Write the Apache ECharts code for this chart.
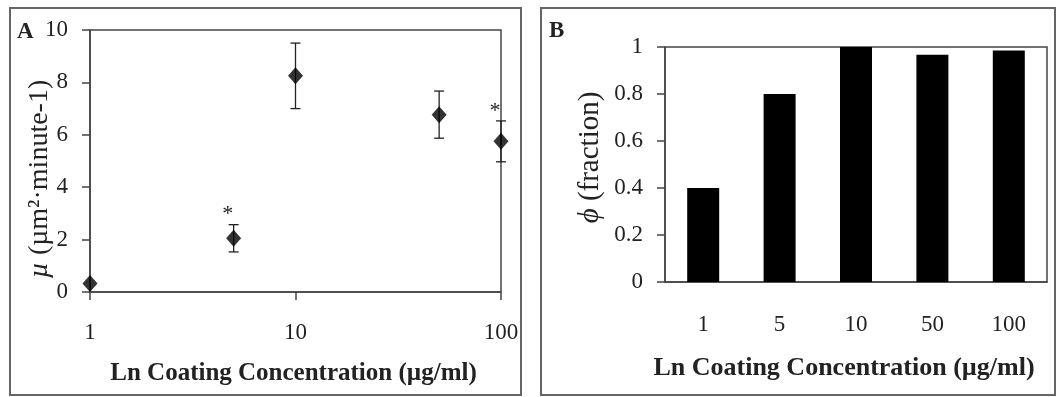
<!DOCTYPE html>
<html>
<head>
<meta charset="utf-8">
<script src="https://cdn.jsdelivr.net/npm/echarts@6/dist/echarts.min.js"></script>
<style>
  html, body { margin: 0; padding: 0; background: #fff; }
  #chart { width: 1057px; height: 397px; }
</style>
</head>
<body>
<div id="chart"></div>
<script>
// panel A: migration speed vs coating concentration (log x)
const concA = [1, 5, 10, 50, 100];
const muA = [0.32, 2.05, 8.25, 6.77, 5.75];
const errA = [0, 0.52, 1.25, 0.9, 0.78];
const sigA = [false, true, false, false, true];
const ticksA = [0, 2, 4, 6, 8, 10];

// panel B: fraction phi per concentration
const catsB = ['1', '5', '10', '50', '100'];
const phiB = [0.4, 0.8, 1.0, 0.967, 0.985];

const FONT = '"Liberation Serif", "DejaVu Serif", serif';
const INK = '#222';
const AXIS = '#444';

let chart = echarts.init(document.getElementById('chart'), null, { renderer: 'canvas' });

const xTitle = 'Ln Coating Concentration (\u00b5g/ml)';

let option = {
  animation: false,
  backgroundColor: '#fff',
  textStyle: { fontFamily: FONT, color: INK },
  graphic: [
    { type: 'rect', shape: { x: 10, y: 8, width: 511, height: 387 },
      style: { fill: 'none', stroke: '#666', lineWidth: 2 } },
    { type: 'rect', shape: { x: 541, y: 8, width: 514, height: 387 },
      style: { fill: 'none', stroke: '#666', lineWidth: 2 } },
    { type: 'text', left: 17, top: 21,
      style: { text: 'A', font: 'bold 23px ' + FONT, fill: INK } },
    { type: 'text', left: 549, top: 20,
      style: { text: 'B', font: 'bold 23px ' + FONT, fill: INK } }
  ],
  grid: [
    { left: 90, top: 30, width: 411, height: 262, show: true,
      borderColor: AXIS, borderWidth: 1.5 },
    { left: 665, top: 47, width: 382, height: 235, show: true,
      borderColor: AXIS, borderWidth: 1.5 }
  ],
  xAxis: [
    {
      gridIndex: 0, type: 'log', logBase: 10, min: 1, max: 100,
      axisLine: { lineStyle: { color: AXIS, width: 1.5 } },
      axisTick: { inside: false, length: 8, lineStyle: { color: AXIS, width: 1.5 } },
      minorTick: { show: false },
      splitLine: { show: false },
      axisLabel: { margin: 29, fontSize: 23, color: INK, fontFamily: FONT },
      name: xTitle, nameLocation: 'middle', nameGap: 69, nameMoveOverlap: false,
      nameTextStyle: { fontSize: 25, fontWeight: 'bold', color: INK, fontFamily: FONT,
        padding: [0, 4, 0, 0] }
    },
    {
      gridIndex: 1, type: 'category', data: catsB,
      axisLine: { lineStyle: { color: AXIS, width: 1.5 } },
      axisTick: { inside: false, length: 8, lineStyle: { color: AXIS, width: 1.5 } },
      axisLabel: { margin: 31, fontSize: 23, color: INK, fontFamily: FONT },
      name: xTitle, nameLocation: 'middle', nameGap: 73, nameMoveOverlap: false,
      nameTextStyle: { fontSize: 26, fontWeight: 'bold', color: INK, fontFamily: FONT,
        padding: [0, 24, 0, 0] }
    }
  ],
  yAxis: [
    {
      gridIndex: 0, type: 'value', min: ticksA[0], max: ticksA[ticksA.length - 1], interval: 2,
      axisLine: { show: true, lineStyle: { color: AXIS, width: 1.5 } },
      axisTick: { show: true, inside: false, length: 8, lineStyle: { color: AXIS, width: 1.5 } },
      splitLine: { show: false },
      axisLabel: { margin: 22, fontSize: 23, color: INK, fontFamily: FONT },
      name: '{i|\u00b5} (\u00b5m\u00b2\u00b7minute-1)', nameLocation: 'middle', nameGap: 36,
      nameMoveOverlap: false,
      nameTextStyle: {
        fontSize: 28, color: INK, fontFamily: FONT, padding: [0, 36, 0, 0],
        rich: { i: { fontSize: 28, fontStyle: 'italic', fontFamily: FONT, color: INK } }
      }
    },
    {
      gridIndex: 1, type: 'value', min: 0, max: 1, interval: 0.2,
      axisLine: { show: true, lineStyle: { color: AXIS, width: 1.5 } },
      axisTick: { show: true, inside: false, length: 8, lineStyle: { color: AXIS, width: 1.5 } },
      splitLine: { show: false },
      axisLabel: { margin: 22, fontSize: 23, color: INK, fontFamily: FONT },
      name: '{i|\u03d5} (fraction)', nameLocation: 'middle', nameGap: 60,
      nameMoveOverlap: false,
      nameTextStyle: {
        fontSize: 29, color: INK, fontFamily: FONT, padding: [0, 0, 0, 14],
        rich: { i: { fontSize: 29, fontStyle: 'italic', fontFamily: FONT, color: INK } }
      }
    }
  ],
  series: [
    {
      // error bars + significance stars
      type: 'custom',
      xAxisIndex: 0, yAxisIndex: 0, z: 2,
      data: concA.map((c, i) => [c, muA[i], errA[i], sigA[i] ? 1 : 0]),
      renderItem: function (params, api) {
        const x = api.value(0), y = api.value(1), e = api.value(2), s = api.value(3);
        const top = api.coord([x, y + e]);
        const bot = api.coord([x, y - e]);
        const kids = [];
        const st = { stroke: INK, lineWidth: 1.3 };
        if (e > 0) {
          kids.push({ type: 'line', shape: { x1: top[0], y1: top[1], x2: bot[0], y2: bot[1] }, style: st });
          kids.push({ type: 'line', shape: { x1: top[0] - 5, y1: top[1], x2: top[0] + 5, y2: top[1] }, style: st });
          kids.push({ type: 'line', shape: { x1: bot[0] - 5, y1: bot[1], x2: bot[0] + 5, y2: bot[1] }, style: st });
        }
        if (s) {
          kids.push({ type: 'text', x: top[0] - 6, y: top[1] + 1,
            style: { text: '*', font: '22px ' + FONT, fill: INK, align: 'center', verticalAlign: 'bottom' } });
        }
        return { type: 'group', children: kids };
      }
    },
    {
      type: 'scatter',
      xAxisIndex: 0, yAxisIndex: 0, z: 3,
      symbol: 'diamond', symbolSize: [15, 17],
      itemStyle: { color: '#000' },
      data: concA.map((c, i) => [c, muA[i]])
    },
    {
      type: 'bar',
      xAxisIndex: 1, yAxisIndex: 1,
      barWidth: 32,
      itemStyle: { color: '#000' },
      data: phiB
    }
  ]
};

chart.setOption(option);
</script>
</body>
</html>
